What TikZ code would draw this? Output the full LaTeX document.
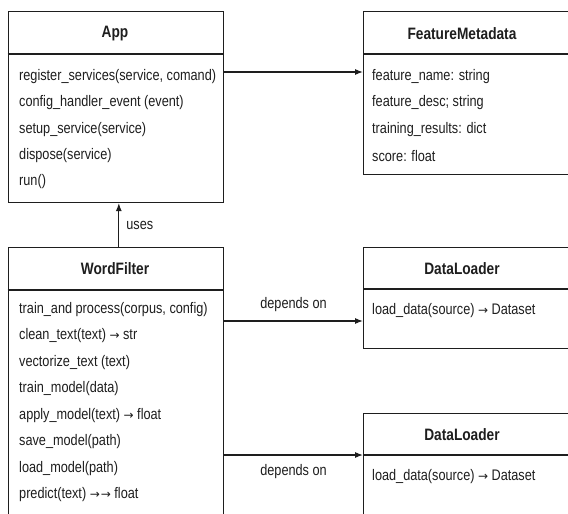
\documentclass[tikz,border=0pt]{standalone}
\usepackage{fontspec}
\setmainfont{Liberation Sans}[FakeStretch=0.83]
\newfontfamily\arrfont{DejaVu Sans}
\newcommand{\rarr}{{\arrfont\fontsize{12}{14}\selectfont →}}
\usetikzlibrary{arrows.meta}
\definecolor{ink}{HTML}{1E1E1E}
\tikzset{
  classbox/.style={draw=ink, line width=1.1pt, anchor=north west, inner sep=0pt},
  sepline/.style={draw=ink, line width=1.1pt},
  headtxt/.style={font=\fontsize{16.5}{18}\selectfont\bfseries, text=ink},
  memtxt/.style={font=\fontsize{15.3}{17}\selectfont, text=ink, anchor=west, inner sep=0pt},
  lbl/.style={font=\fontsize{15.3}{17}\selectfont, text=ink, inner sep=0pt},
  conn/.style={draw=ink, line width=1.1pt, -{Latex[length=8pt,width=6pt]}},
}
\begin{document}
\begin{tikzpicture}[x=1pt,y=-1pt]
\useasboundingbox (0,0) rectangle (568,514);
\clip (0,0) rectangle (568,514);
\fill[white] (0,0) rectangle (568,514);

% App
\node[classbox, minimum width=215.5pt, minimum height=191pt] (app) at (7.5,11) {};
\draw[sepline] (7.5,54) -- (223,54);
\node[headtxt] (apph) at (115,34) {App};
\node[memtxt] (a1) at (19,77) {register\_services(service, comand)};
\node[memtxt] (a2) at (19,103) {config\_handler\_event (event)};
\node[memtxt] (a3) at (19,130) {setup\_service(service)};
\node[memtxt] (a4) at (19,156) {dispose(service)};
\node[memtxt] (a5) at (19,182) {run()};

% FeatureMetadata
\node[classbox, minimum width=240pt, minimum height=163pt] (fm) at (363,11) {};
\draw[sepline] (363,54) -- (603,54);
\node[headtxt] (fmh) at (462,34) {FeatureMetadata};
\node[memtxt] (f1) at (372,77) {feature\_name: string};
\node[memtxt] (f2) at (372,103) {feature\_desc; string};
\node[memtxt] (f3) at (372,130) {training\_results: dict};
\node[memtxt] (f4) at (372,156) {score: float};

% WordFilter
\node[classbox, minimum width=215.5pt, minimum height=290pt] (wf) at (7.5,247) {};
\draw[sepline] (7.5,290) -- (223,290);
\node[headtxt] (wfh) at (115,269) {WordFilter};
\node[memtxt] (w1) at (19,310) {train\_and process(corpus, config)};
\node[memtxt] (w2) at (19,336) {clean\_text(text) \rarr\ str};
\node[memtxt] (w3) at (19,363) {vectorize\_text (text)};
\node[memtxt] (w4) at (19,389) {train\_model(data)};
\node[memtxt] (w5) at (19,416) {apply\_model(text) \rarr\ float};
\node[memtxt] (w6) at (19,442) {save\_model(path)};
\node[memtxt] (w7) at (19,469) {load\_model(path)};
\node[memtxt] (w8) at (19,495) {predict(text) \rarr\kern1pt\rarr\ float};

% DataLoader 1
\node[classbox, minimum width=240pt, minimum height=101pt] (dl1) at (363,247) {};
\draw[sepline] (363,289) -- (603,289);
\node[headtxt] (dl1h) at (462,269) {DataLoader};
\node[memtxt] (d1) at (372,311) {load\_data(source) \rarr\ Dataset};

% DataLoader 2
\node[classbox, minimum width=240pt, minimum height=140pt] (dl2) at (363,413) {};
\node[headtxt] (dl2h) at (462,435) {DataLoader};
\node[memtxt] (d2) at (372,477) {load\_data(source) \rarr\ Dataset};

% connectors
\coordinate (c1) at (0,72);
\draw[conn] (app.east |- c1) -- (fm.west |- c1);
\draw[conn] ([xshift=3pt]wf.north) -- ([xshift=3pt]app.south) node[lbl, pos=0.5, right=7pt] {uses};
\coordinate (c2) at (0,321);
\draw[conn] (wf.east |- c2) -- (dl1.west |- c2) node[lbl, midway, above=9pt] {depends on};
\coordinate (c3) at (0,455);
\draw[conn] (wf.east |- c3) -- (dl2.west |- c3) node[lbl, midway, below=9pt] {depends on};
\draw[sepline] (dl2.west |- c3) -- (603,455);
\end{tikzpicture}
\end{document}
